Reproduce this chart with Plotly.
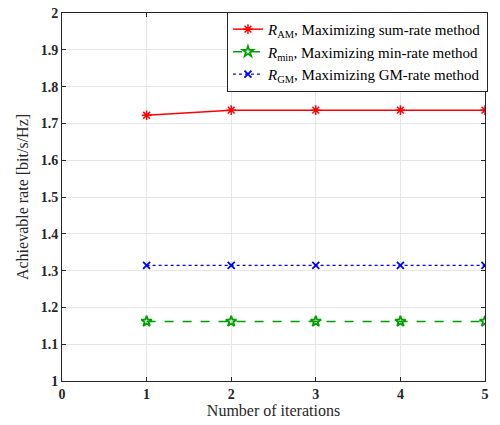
import plotly.graph_objects as go

iterations = [1, 2, 3, 4, 5]
r_am = [1.722, 1.736, 1.736, 1.736, 1.736]
r_min = [1.162, 1.162, 1.162, 1.162, 1.162]
r_gm = [1.314, 1.314, 1.314, 1.314, 1.314]

names = [
    "<i>R</i><sub>AM</sub>, Maximizing sum-rate method",
    "<i>R</i><sub>min</sub>, Maximizing min-rate method",
    "<i>R</i><sub>GM</sub>, Maximizing GM-rate method",
]

font = "Liberation Serif, Times New Roman, serif"

fig = go.Figure()
fig.add_trace(go.Scatter(x=iterations, y=r_am, name=names[0], mode="lines+markers",
                         line=dict(color="#ff0000", width=1.5),
                         marker=dict(symbol="asterisk-open", size=8, color="#ff0000",
                                     line=dict(color="#ff0000", width=1.5))))
fig.add_trace(go.Scatter(x=iterations, y=r_min, name=names[1], mode="lines+markers",
                         line=dict(color="#00a000", width=1.5, dash="dash"),
                         marker=dict(symbol="star-open", size=8, color="#00a000",
                                     line=dict(color="#00a000", width=1.8))))
fig.add_trace(go.Scatter(x=iterations, y=r_gm, name=names[2], mode="lines+markers",
                         line=dict(color="#0000ff", width=1.2, dash="dot"),
                         marker=dict(symbol="x-thin-open", size=7, color="#0000ff",
                                     line=dict(color="#0000ff", width=1.8))))

axis_common = dict(showline=True, linecolor="#262626", linewidth=1, mirror="ticks",
                   ticks="inside", ticklen=4, tickcolor="#262626",
                   showgrid=True, gridcolor="#e6e6e6", gridwidth=1, zeroline=False,
                   automargin=False,
                   tickfont=dict(family=font, size=14, color="#262626", weight="bold"))

fig.update_xaxes(range=[0, 5], dtick=1, tick0=0,
                 title=dict(text="Number of iterations", font=dict(family=font, size=16, color="#262626"),
                            standoff=0),
                 **axis_common)
fig.update_yaxes(range=[1, 2], dtick=0.1, tick0=1, tickformat="~g",
                 title=dict(text="Achievable rate [bit/s/Hz]", font=dict(family=font, size=16, color="#262626"),
                            standoff=8),
                 **axis_common)

fig.update_layout(
    width=500, height=425,
    margin=dict(l=62, r=13, t=13, b=44),
    plot_bgcolor="white", paper_bgcolor="white",
    font=dict(family=font, size=14, color="#262626"),
    legend=dict(x=1.007, y=1.003, xanchor="right", yanchor="top",
                bgcolor="white", bordercolor="#262626", borderwidth=1,
                font=dict(family=font, size=15, color="black"),
                tracegroupgap=0, itemwidth=30),
    showlegend=True,
)

fig.write_html("out.html", config={"displayModeBar": False},
               post_script="document.body.style.margin='0';document.body.style.overflow='hidden';")
